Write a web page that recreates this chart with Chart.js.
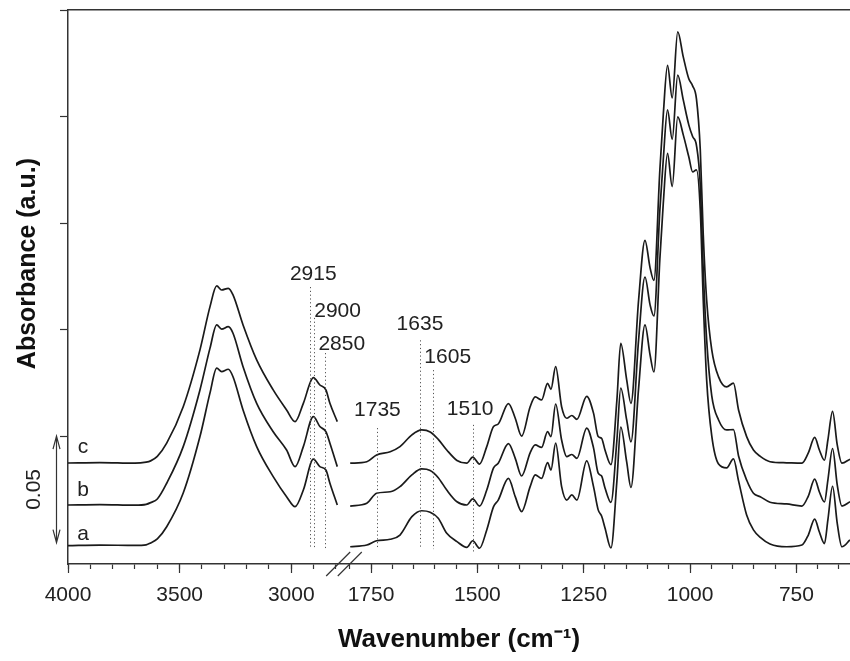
<!DOCTYPE html>
<html lang="en">
<head>
<meta charset="UTF-8">
<title>FTIR spectra a-c</title>
<script src="https://cdn.jsdelivr.net/npm/chart.js"></script>
<style>
  body { margin: 0; background: #fff; }
  #wrap { width: 850px; height: 661px; }
</style>
</head>
<body>
<div id="wrap"><canvas id="ftir"></canvas></div>
<script>
// wavenumbers (cm-1) left of the axis break, and absorbance of spectra a, b, c
const waveLeft = [4000, 3857, 3700, 3650, 3630, 3600, 3558, 3484, 3409, 3364, 3334, 3312, 3282, 3261, 3216,
                  3155, 3081, 3021, 2983, 2946, 2901, 2872, 2845, 2827, 2794];
const aLeft = [0.0086, 0.0089, 0.0087, 0.0090, 0.0099, 0.0118, 0.0175, 0.0333, 0.0598, 0.0803, 0.0919, 0.0903, 0.0914, 0.0879, 0.0723,
               0.0551, 0.0410, 0.0316, 0.0269, 0.0347, 0.0492, 0.0457, 0.0441, 0.0379, 0.0277];
const bLeft = [0.0277, 0.0279, 0.0276, 0.0280, 0.0288, 0.0305, 0.0379, 0.0551, 0.0817, 0.1013, 0.1122, 0.1102, 0.1114, 0.1083, 0.0926,
               0.0754, 0.0621, 0.0535, 0.0457, 0.0551, 0.0692, 0.0645, 0.0621, 0.0567, 0.0457];
const cLeft = [0.0474, 0.0476, 0.0473, 0.0478, 0.0484, 0.0505, 0.0567, 0.0738, 0.1005, 0.1208, 0.1305, 0.1286, 0.1294, 0.1263, 0.1122,
               0.0958, 0.0817, 0.0723, 0.0668, 0.0754, 0.0875, 0.0840, 0.0817, 0.0754, 0.0668];

// right of the break (fingerprint region)
const waveRight = [1799, 1760, 1737, 1705, 1682, 1654, 1631, 1611, 1592, 1572, 1548, 1525, 1511, 1495, 1478,
                   1462, 1451, 1427, 1411, 1396, 1376, 1364, 1349, 1335, 1327, 1316, 1302, 1290, 1278, 1266,
                   1243, 1227, 1216, 1208, 1200, 1186, 1172, 1163, 1149, 1139, 1121, 1106, 1094, 1085, 1071,
                   1063, 1053, 1042, 1029, 1016, 1003, 994, 985, 976, 969, 961, 949, 933, 914, 898,
                   886, 867, 851, 835, 812, 773, 737, 722, 707, 696, 684, 676, 665, 654, 643, 624];
const aRight = [0.0081, 0.0089, 0.0109, 0.0116, 0.0136, 0.0222, 0.0250, 0.0243, 0.0215, 0.0144, 0.0105, 0.0078, 0.0109, 0.0074, 0.0160,
                0.0269, 0.0300, 0.0402, 0.0316, 0.0246, 0.0363, 0.0418, 0.0402, 0.0476, 0.0441, 0.0567, 0.0363, 0.0300, 0.0324, 0.0300,
                0.0484, 0.0363, 0.0254, 0.0225, 0.0169, 0.0075, 0.0390, 0.0643, 0.0479, 0.0359, 0.0824, 0.1122, 0.0981, 0.0901, 0.1432,
                0.1692, 0.1927, 0.1771, 0.2098, 0.2014, 0.1911, 0.1840, 0.1850, 0.1662, 0.1239, 0.0864, 0.0601, 0.0469, 0.0451, 0.0493,
                0.0390, 0.0230, 0.0160, 0.0125, 0.0094, 0.0081, 0.0089, 0.0136, 0.0211, 0.0150, 0.0096, 0.0207, 0.0365, 0.0191, 0.0081, 0.0113];
const bRight = [0.0272, 0.0285, 0.0332, 0.0339, 0.0363, 0.0418, 0.0446, 0.0439, 0.0405, 0.0347, 0.0292, 0.0277, 0.0306, 0.0272, 0.0347,
                0.0451, 0.0473, 0.0565, 0.0496, 0.0413, 0.0522, 0.0559, 0.0547, 0.0621, 0.0598, 0.0751, 0.0582, 0.0504, 0.0514, 0.0496,
                0.0638, 0.0545, 0.0426, 0.0413, 0.0357, 0.0289, 0.0582, 0.0826, 0.0676, 0.0573, 0.1052, 0.1347, 0.1216, 0.1164, 0.1662,
                0.1897, 0.2131, 0.1993, 0.2294, 0.2178, 0.2061, 0.2006, 0.1965, 0.1779, 0.1380, 0.1052, 0.0789, 0.0676, 0.0629, 0.0631,
                0.0507, 0.0394, 0.0332, 0.0316, 0.0290, 0.0282, 0.0272, 0.0319, 0.0398, 0.0338, 0.0291, 0.0394, 0.0542, 0.0371, 0.0272, 0.0292];
const cRight = [0.0473, 0.0480, 0.0512, 0.0527, 0.0551, 0.0606, 0.0629, 0.0620, 0.0585, 0.0535, 0.0486, 0.0473, 0.0502, 0.0469, 0.0551,
                0.0645, 0.0657, 0.0753, 0.0684, 0.0600, 0.0738, 0.0784, 0.0770, 0.0848, 0.0820, 0.0926, 0.0738, 0.0684, 0.0697, 0.0679,
                0.0787, 0.0708, 0.0598, 0.0590, 0.0535, 0.0466, 0.0770, 0.1036, 0.0864, 0.0754, 0.1239, 0.1519, 0.1390, 0.1331, 0.1850,
                0.2108, 0.2340, 0.2187, 0.2497, 0.2380, 0.2277, 0.2244, 0.2183, 0.1944, 0.1545, 0.1239, 0.1005, 0.0878, 0.0831, 0.0849,
                0.0723, 0.0598, 0.0535, 0.0505, 0.0480, 0.0475, 0.0473, 0.0521, 0.0594, 0.0535, 0.0487, 0.0582, 0.0716, 0.0559, 0.0473, 0.0492];

const curveNames = ['a', 'b', 'c'];
const curveNameY = [0.0141, 0.0347, 0.0549];

// band assignments marked with dotted lines
const markWave = [2915, 2900, 2850, 1735, 1635, 1605, 1510];
const markTop = [0.130, 0.1155, 0.099, 0.0638, 0.105, 0.091, 0.0653];
const markLabelY = [0.1362, 0.1188, 0.1033, 0.0723, 0.1127, 0.0972, 0.0725];
const markShift = [3, 24, 17, 0, 0, 15, -3];   // px, label offset from its line

const tickMajor = [4000, 3500, 3000, 1750, 1500, 1250, 1000, 750];
const yTicks = [0.06, 0.11, 0.16, 0.21, 0.26];

// broken axis: 4000-2790 then 1800-624, the right part drawn 1.9x wider per cm-1
const BREAK_FROM = 2790, BREAK_TO = 1800, BREAK_GAP = 52, RIGHT_STRETCH = 1.905;
const R0 = (4000 - BREAK_FROM) + BREAK_GAP;
function pos(w) {
  return w > 2000 ? 4000 - w : R0 + (BREAK_TO - w) * RIGHT_STRETCH;
}
function wave(p) {
  return p < R0 - 5 ? 4000 - p : BREAK_TO - (p - R0) / RIGHT_STRETCH;
}
const X_MAX = pos(624);

const tickMinor = [];
for (let w = 4000; w >= 2800; w -= 100) tickMinor.push(w);
for (let w = 1800; w >= 650; w -= 50) tickMinor.push(w);

function series(left, right) {
  const pts = waveLeft.map((w, i) => ({ x: pos(w), y: left[i] }));
  pts.push({ x: (pos(BREAK_FROM) + pos(BREAK_TO)) / 2, y: null });
  return pts.concat(waveRight.map((w, i) => ({ x: pos(w), y: right[i] })));
}

const FONT = "'Liberation Sans', Arial, sans-serif";
const INK = '#222';
Chart.defaults.font.family = FONT;
Chart.defaults.color = INK;

const decor = {
  id: 'decor',
  afterDatasetsDraw(chart) {
    const { ctx, chartArea } = chart;
    const x = chart.scales.x, y = chart.scales.y;
    ctx.save();

    // dotted lines
    ctx.strokeStyle = '#555';
    ctx.lineWidth = 1;
    ctx.setLineDash([1.2, 2.6]);
    markWave.forEach((w, i) => {
      const px = Math.round(x.getPixelForValue(pos(w))) + 0.5;
      ctx.beginPath();
      ctx.moveTo(px, y.getPixelForValue(markTop[i]));
      ctx.lineTo(px, y.getPixelForValue(w === 1510 ? 0.005 : 0.007));
      ctx.stroke();
    });
    ctx.setLineDash([]);

    ctx.fillStyle = INK;
    ctx.font = '21px ' + FONT;
    ctx.textAlign = 'center';
    ctx.textBaseline = 'middle';
    markWave.forEach((w, i) => {
      ctx.fillText(String(w), x.getPixelForValue(pos(w)) + markShift[i], y.getPixelForValue(markLabelY[i]));
    });

    // curve names
    curveNames.forEach((n, i) => {
      ctx.fillText(n, chartArea.left + 15, y.getPixelForValue(curveNameY[i]));
    });

    // 0.05 scale bar
    const ax = chartArea.left - 11.5;
    const yTop = y.getPixelForValue(0.06), yBot = y.getPixelForValue(0.01);
    ctx.strokeStyle = '#333';
    ctx.lineWidth = 1.2;
    ctx.beginPath();
    ctx.moveTo(ax, yTop); ctx.lineTo(ax, yBot);
    ctx.moveTo(ax - 3.5, yTop + 13); ctx.lineTo(ax, yTop); ctx.lineTo(ax + 3.5, yTop + 13);
    ctx.moveTo(ax - 3.5, yBot - 13); ctx.lineTo(ax, yBot); ctx.lineTo(ax + 3.5, yBot - 13);
    ctx.stroke();
    ctx.save();
    ctx.translate(chartArea.left - 34, y.getPixelForValue(0.035));
    ctx.rotate(-Math.PI / 2);
    ctx.fillText('0.05', 0, 0);
    ctx.restore();

    // y axis title, sits a little above the axis middle
    ctx.save();
    ctx.fillStyle = '#111';
    ctx.font = 'bold 25px ' + FONT;
    ctx.translate(28, y.getPixelForValue(0.141));
    ctx.rotate(-Math.PI / 2);
    ctx.fillText('Absorbance (a.u.)', 0, 0);
    ctx.restore();

    // axis break marks
    ctx.lineWidth = 1.2;
    [BREAK_FROM, BREAK_TO].forEach(w => {
      const px = x.getPixelForValue(pos(w));
      const py = chartArea.bottom;
      ctx.beginPath();
      ctx.moveTo(px - 12, py + 12);
      ctx.lineTo(px + 12, py - 12);
      ctx.stroke();
    });
    ctx.restore();
  }
};

const lineStyle = { borderColor: '#1a1a1a', borderWidth: 1.7, pointRadius: 0, showLine: true,
                    cubicInterpolationMode: 'monotone', spanGaps: false };

new Chart(document.getElementById('ftir'), {
  type: 'scatter',
  data: {
    datasets: [
      Object.assign({ label: 'a', data: series(aLeft, aRight) }, lineStyle),
      Object.assign({ label: 'b', data: series(bLeft, bRight) }, lineStyle),
      Object.assign({ label: 'c', data: series(cLeft, cRight) }, lineStyle)
    ]
  },
  options: {
    responsive: true,
    maintainAspectRatio: false,
    animation: false,
    events: [],
    layout: { padding: 0 },
    plugins: { legend: { display: false }, tooltip: { enabled: false } },
    scales: {
      xMinor: {
        type: 'linear', position: 'bottom', weight: 0, min: 0, max: X_MAX,
        afterBuildTicks: s => { s.ticks = tickMinor.map(w => ({ value: pos(w) })); },
        afterFit: s => { s.height = 0; },
        ticks: { display: false },
        grid: { drawOnChartArea: false, tickLength: 5, tickColor: '#333', tickWidth: 1.2 },
        border: { display: true, color: '#333', width: 1.5 }
      },
      x: {
        type: 'linear', position: 'bottom', weight: 1, min: 0, max: X_MAX,
        afterBuildTicks: s => { s.ticks = tickMajor.map(w => ({ value: pos(w) })); },
        afterFit: s => { s.height = 97; },
        ticks: {
          autoSkip: false, maxRotation: 0, padding: 10, color: INK,
          font: { size: 21 },
          callback: v => String(Math.round(wave(v)))
        },
        grid: { drawOnChartArea: false, tickLength: 9, tickColor: '#333', tickWidth: 1.2 },
        border: { display: false },
        title: { display: true, text: 'Wavenumber (cm⁻¹)', color: '#111',
                 font: { size: 26, weight: 'bold' }, padding: { top: 0, bottom: 6 } }
      },
      xTop: {
        type: 'linear', position: 'top', min: 0, max: X_MAX,
        afterFit: s => { s.height = 10; },
        ticks: { display: false },
        grid: { display: false },
        border: { display: true, color: '#333', width: 1.5 }
      },
      y: {
        type: 'linear', position: 'left', min: 0, max: 0.26,
        afterBuildTicks: s => { s.ticks = yTicks.map(v => ({ value: v })); },
        afterFit: s => { s.width = 68; },
        ticks: { display: false },
        grid: { drawOnChartArea: false, tickLength: 8, tickColor: '#333', tickWidth: 1.2 },
        border: { display: true, color: '#333', width: 1.5 }
      }
    }
  },
  plugins: [decor]
});
</script>
</body>
</html>
